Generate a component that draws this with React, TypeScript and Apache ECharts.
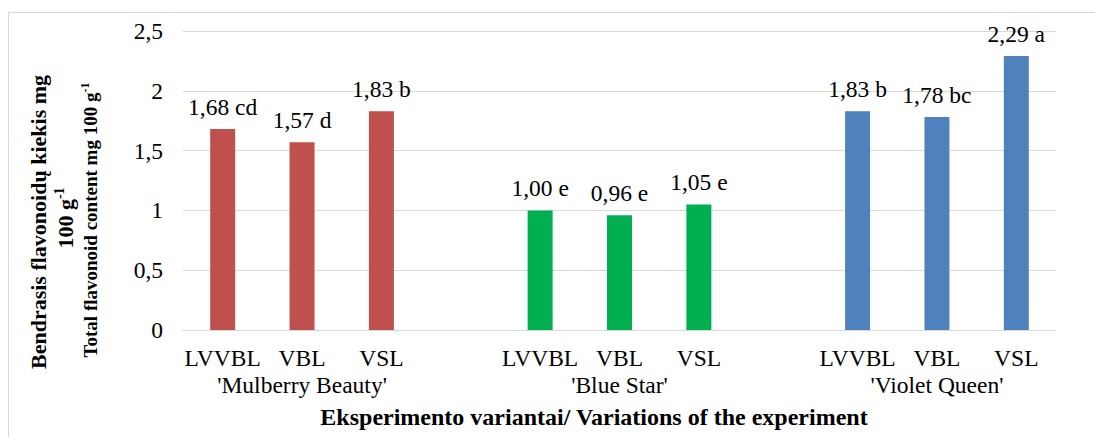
import React, { useEffect, useRef } from "react";
import * as echarts from "echarts";

const cultivars = ["'Mulberry Beauty'", "'Blue Star'", "'Violet Queen'"];
const variants = ["LVVBL", "VBL", "VSL"];
const mulberryValues = [1.68, 1.57, 1.83];
const blueStarValues = [1.0, 0.96, 1.05];
const violetValues = [1.83, 1.78, 2.29];
const mulberryLetters = ["cd", "d", "b"];
const blueStarLetters = ["e", "e", "e"];
const violetLetters = ["b", "bc", "a"];
const groupColors = ["#C0504D", "#00B050", "#4F81BD"];
const yMin = 0;
const yMax = 2.5;
const yStep = 0.5;

const FONT = "Liberation Serif";

export default function App() {
  const ref = useRef<HTMLDivElement>(null);
  useEffect(() => {
    if (!ref.current) return;
    const chart = echarts.init(ref.current, undefined, { renderer: "svg" });
    const groupValues = [mulberryValues, blueStarValues, violetValues];
    const groupLetters = [mulberryLetters, blueStarLetters, violetLetters];
    const categories: string[] = [];
    const groupAxis: string[] = [];
    const data: any[] = [];
    groupValues.forEach((vals, g) => {
      if (g > 0) {
        categories.push(" ".repeat(g));
        groupAxis.push("");
        data.push("-");
      }
      vals.forEach((v, i) => {
        categories.push(variants[i] + "\u200b".repeat(g));
        groupAxis.push(i === 1 ? cultivars[g] : "");
        data.push({
          value: v,
          letter: groupLetters[g][i],
          itemStyle: { color: groupColors[g] },
        });
      });
    });
    const fmt = (v: number) => v.toFixed(2).replace(".", ",");
    const lbl = { color: "#000", fontFamily: FONT, fontSize: 23.5 };
    chart.setOption({
      animation: false,
      textStyle: { fontFamily: FONT },
      grid: { left: 183, right: 39, top: 31, bottom: 107 },
      xAxis: [
        {
          type: "category",
          data: categories,
          axisLine: { lineStyle: { color: "#D9D9D9", width: 1 } },
          axisTick: { show: false },
          axisLabel: {
            ...lbl,
            interval: 0,
            margin: 16,
            formatter: (s: string) => s.replace(/\u200b/g, "").trim(),
          },
        },
        {
          type: "category",
          position: "bottom",
          offset: 27,
          data: groupAxis,
          axisLine: { show: false },
          axisTick: { show: false },
          axisLabel: { ...lbl, interval: 0, margin: 16 },
        },
      ],
      yAxis: {
        type: "value",
        min: yMin,
        max: yMax,
        interval: yStep,
        axisLine: { show: false },
        axisTick: { show: false },
        splitLine: { lineStyle: { color: "#D9D9D9", width: 1 } },
        axisLabel: {
          ...lbl,
          margin: 20,
          formatter: (v: number) => String(v).replace(".", ","),
        },
      },
      series: [
        {
          type: "bar",
          xAxisIndex: 0,
          barWidth: 25,
          data,
          label: {
            ...lbl,
            show: true,
            position: "top",
            distance: 10,
            formatter: (p: any) => fmt(p.value) + " " + p.data.letter,
          },
        },
      ],
      graphic: [
        {
          type: "rect",
          shape: { x: 8.5, y: 12.5, width: 1200, height: 600 },
          style: { fill: "none", stroke: "#D9D9D9", lineWidth: 1 },
          silent: true,
        },
        {
          type: "text",
          x: 38,
          y: 222,
          rotation: Math.PI / 2,
          style: {
            text: "Bendrasis flavonoidų kiekis mg",
            fontFamily: FONT,
            fontWeight: "bold",
            fontSize: 22,
            fill: "#000",
            align: "center",
            verticalAlign: "middle",
          },
        },
        {
          type: "text",
          x: 65,
          y: 218,
          rotation: Math.PI / 2,
          style: {
            text: "{b|100 g}{s|-1}",
            fill: "#000",
            align: "center",
            verticalAlign: "middle",
            rich: {
              b: { fontFamily: FONT, fontWeight: "bold", fontSize: 22, fill: "#000" },
              s: { fontFamily: FONT, fontWeight: "bold", fontSize: 14, fill: "#000", padding: [0, 0, 12, 0] },
            },
          },
        },
        {
          type: "text",
          x: 90,
          y: 220,
          rotation: Math.PI / 2,
          style: {
            text: "{b|Total flavonoid content mg 100 g}{s|-1}",
            fill: "#000",
            align: "center",
            verticalAlign: "middle",
            rich: {
              b: { fontFamily: FONT, fontWeight: "bold", fontSize: 19, fill: "#000" },
              s: { fontFamily: FONT, fontWeight: "bold", fontSize: 12, fill: "#000", padding: [0, 0, 10, 0] },
            },
          },
        },
        {
          type: "text",
          x: 594,
          y: 417,
          style: {
            text: "Eksperimento variantai/ Variations of the experiment",
            fontFamily: FONT,
            fontWeight: "bold",
            fontSize: 24,
            fill: "#000",
            align: "center",
            verticalAlign: "middle",
          },
        },
      ],
    });
    return () => chart.dispose();
  }, []);
  return (
    <div
      ref={ref}
      style={{ position: "fixed", left: 0, top: 0, width: 1095, height: 437, background: "#fff" }}
    />
  );
}
